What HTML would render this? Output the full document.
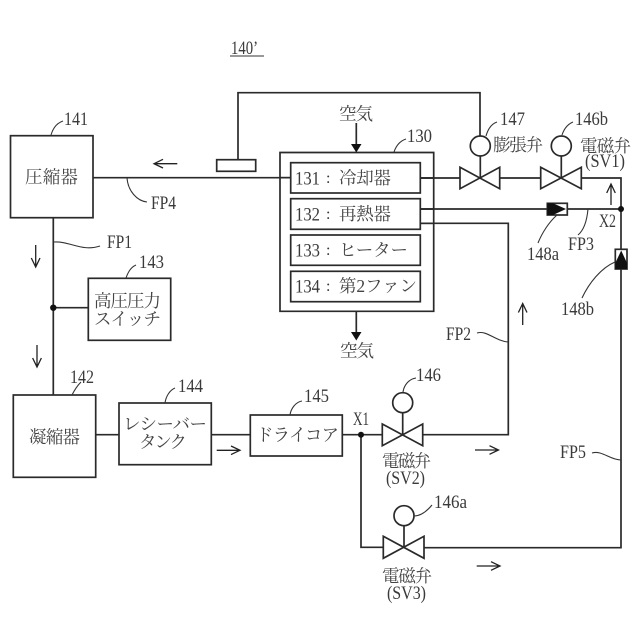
<!DOCTYPE html>
<html lang="ja">
<head>
<meta charset="utf-8">
<style>
html,body{margin:0;padding:0;background:#fff}
svg{display:block}
text{font-family:"Liberation Serif","Noto Serif CJK JP",serif;fill:#3a3a3a;font-size:18.5px}
.j{font-size:17.5px;fill:#444}
.s{fill:none;stroke:#2a2a2a;stroke-width:1.7}
.t{fill:none;stroke:#333;stroke-width:1.1}
.b{fill:#fff;stroke:#2a2a2a;stroke-width:1.7}
.a{fill:none;stroke:#222;stroke-width:1.3}
</style>
</head>
<body>
<svg width="640" height="640" viewBox="0 0 640 640" xmlns="http://www.w3.org/2000/svg">
<!-- pipes -->
<path class="s" d="M93 177.7H291M238 159.7V92.7H480V137"/>
<path class="s" d="M420 178H460M499.7 178H540.7M581.3 178H621V547.7H424"/>
<path class="s" d="M420 209H621"/>
<path class="s" d="M420 223.3H508.3V434.7H423"/>
<path class="s" d="M53.3 217.7V395M53.3 307.7H88.3"/>
<path class="s" d="M95.7 434.7H119M211.3 434.7H250.3M342.3 434.7H382.3M361 434.7V547.3H383.3"/>
<path class="s" d="M480.3 156V178M561.3 156V178M402.7 412.7V434.7M404 525.7V547.5"/>
<!-- boxes -->
<rect class="b" x="10.5" y="135.7" width="82.5" height="82"/>
<rect class="b" x="13.3" y="395" width="82.4" height="82.3"/>
<rect class="b" x="88.3" y="278.3" width="82.4" height="62"/>
<rect class="b" x="119" y="403" width="92.3" height="61.7"/>
<rect class="b" x="250.3" y="415" width="92" height="41"/>
<rect class="b" x="216.7" y="159.7" width="39" height="11.6"/>
<path class="s" d="M280 152.5H433.7V311.3H280Z"/>
<path class="s" d="M280 177.7H291M420.3 178H433.7M420.3 209H433.7M420.3 223.3H433.7"/>
<rect class="b" x="290.7" y="162.7" width="129.6" height="30.3"/>
<rect class="b" x="290.7" y="198.7" width="129.6" height="30.6"/>
<rect class="b" x="290.7" y="235" width="129.6" height="30.3"/>
<rect class="b" x="290.7" y="271.3" width="129.6" height="30.4"/>
<!-- valves -->
<path class="b" d="M460 167.3L499.7 188.7V167.3L460 188.7Z"/>
<path class="b" d="M540.7 167.3L581.3 188.7V167.3L540.7 188.7Z"/>
<path class="b" d="M382.3 424L422.7 445.7V424L382.3 445.7Z"/>
<path class="b" d="M383.3 536.3L424 558.3V536.3L383.3 558.3Z"/>
<circle class="b" cx="480.3" cy="146" r="10"/>
<circle class="b" cx="561.3" cy="146" r="10"/>
<circle class="b" cx="402.7" cy="402.7" r="10"/>
<circle class="b" cx="404" cy="515.7" r="10"/>
<!-- check valves -->
<rect class="b" x="547.3" y="203.3" width="20" height="11.7"/>
<path fill="#111" d="M547.3 203.3H553L566 209L553 215H547.3Z"/>
<rect class="b" x="615.3" y="249.3" width="11.7" height="19.7"/>
<path fill="#111" d="M621.2 250.5L627 263V269H615.3V263Z"/>
<!-- junctions -->
<circle cx="53.3" cy="307.7" r="3.2" fill="#111"/>
<circle cx="361" cy="434.7" r="3" fill="#111"/>
<circle cx="621" cy="209" r="3" fill="#111"/>
<!-- air arrows -->
<path class="s" d="M356.3 123V145M356.3 311V333"/>
<path fill="#111" d="M351 144H361.5L356.3 152.5ZM351 332H361.5L356.3 340.5Z"/>
<!-- flow arrows -->
<path class="a" d="M177.3 163.7H154M163 159.3L154 163.7L163 168"/>
<path class="a" d="M35.7 245V267M31.3 258L35.7 267L40 258"/>
<path class="a" d="M37 345V367M32.6 358L37 367L41.4 358"/>
<path class="a" d="M611 205V184M606.7 193L611 184L615.3 193"/>
<path class="a" d="M522.7 325V303.5M518.4 312.5L522.7 303.5L527 312.5"/>
<path class="a" d="M216.7 450.3H240M231 446L240 450.3L231 454.6"/>
<path class="a" d="M475 450H498.5M489.5 445.7L498.5 450L489.5 454.3"/>
<path class="a" d="M476.7 566H500M491 561.7L500 566L491 570.3"/>
<!-- leaders -->
<path class="t" d="M51 135C53 128 57 123 63 121"/>
<path class="t" d="M127 178C128 191 137 201 147 202"/>
<path class="t" d="M54 242C70 241 82 252 100 246"/>
<path class="t" d="M126 278C128 272 131 267 136 265"/>
<path class="t" d="M72 395C75 389 78 385 81 382"/>
<path class="t" d="M165 403C166 396 170 390 175 388"/>
<path class="t" d="M290 415C291 408 296 402 302 401"/>
<path class="t" d="M403 392C404 385 409 379 416 378"/>
<path class="t" d="M414 516C421 516 427 511 432 505"/>
<path class="t" d="M486 136C488 129 491 124 497 122"/>
<path class="t" d="M562 135C564 129 568 124 573 122"/>
<path class="t" d="M394 152C396 146 400 141 406 139"/>
<path class="t" d="M588 209C587 220 584 230 578 235"/>
<path class="t" d="M557 215C549 222 542 233 538 243"/>
<path class="t" d="M615 262C601 268 589 283 582 298"/>
<path class="t" d="M477 333C487 330 495 341 508 342"/>
<path class="t" d="M592 453C602 450 610 460 621 460"/>
<!-- labels -->
<text x="231" y="54" textLength="27" lengthAdjust="spacingAndGlyphs">140’</text>
<path class="t" d="M230 56H264"/>
<text x="64" y="125" textLength="24" lengthAdjust="spacingAndGlyphs">141</text>
<text x="151" y="209" textLength="25" lengthAdjust="spacingAndGlyphs">FP4</text>
<text x="107" y="248" textLength="25" lengthAdjust="spacingAndGlyphs">FP1</text>
<text x="139" y="268" textLength="25" lengthAdjust="spacingAndGlyphs">143</text>
<text x="70" y="383" textLength="24" lengthAdjust="spacingAndGlyphs">142</text>
<text x="178" y="392" textLength="25" lengthAdjust="spacingAndGlyphs">144</text>
<text x="304" y="402" textLength="25" lengthAdjust="spacingAndGlyphs">145</text>
<text x="416" y="381" textLength="25" lengthAdjust="spacingAndGlyphs">146</text>
<text x="434" y="508" textLength="33" lengthAdjust="spacingAndGlyphs">146a</text>
<text x="500" y="125" textLength="25" lengthAdjust="spacingAndGlyphs">147</text>
<text x="575" y="125" textLength="33" lengthAdjust="spacingAndGlyphs">146b</text>
<text x="407" y="142" textLength="25" lengthAdjust="spacingAndGlyphs">130</text>
<text x="568" y="250" textLength="26" lengthAdjust="spacingAndGlyphs">FP3</text>
<text x="527" y="260" textLength="32" lengthAdjust="spacingAndGlyphs">148a</text>
<text x="561" y="315" textLength="33" lengthAdjust="spacingAndGlyphs">148b</text>
<text x="446" y="340" textLength="25" lengthAdjust="spacingAndGlyphs">FP2</text>
<text x="560" y="458" textLength="26" lengthAdjust="spacingAndGlyphs">FP5</text>
<text x="353" y="425" textLength="16" lengthAdjust="spacingAndGlyphs">X1</text>
<text x="599" y="227" textLength="17" lengthAdjust="spacingAndGlyphs">X2</text>

<text class="j" x="25" y="183" textLength="53">圧縮器</text>
<text class="j" x="94" y="307" textLength="67">高圧圧力</text>
<text class="j" x="94" y="325" textLength="67">スイッチ</text>
<text class="j" x="29" y="443" textLength="51">凝縮器</text>
<text class="j" x="123" y="430" textLength="84">レシーバー</text>
<text class="j" x="139" y="448" textLength="48">タンク</text>
<text class="j" x="256" y="441" textLength="83">ドライコア</text>

<text x="295" y="184.5" textLength="25" lengthAdjust="spacingAndGlyphs">131</text><text x="326" y="183" style="font-size:16px">:</text><text class="j" x="339" y="184" textLength="52">冷却器</text>
<text x="295" y="220.5" textLength="25" lengthAdjust="spacingAndGlyphs">132</text><text x="326" y="219" style="font-size:16px">:</text><text class="j" x="339" y="220" textLength="52">再熱器</text>
<text x="295" y="256.5" textLength="25" lengthAdjust="spacingAndGlyphs">133</text><text x="326" y="255" style="font-size:16px">:</text><text class="j" x="339" y="256" textLength="69">ヒーター</text>
<text x="295" y="292.5" textLength="25" lengthAdjust="spacingAndGlyphs">134</text><text x="326" y="291" style="font-size:16px">:</text><text class="j" x="339" y="292" textLength="78">第2ファン</text>

<text class="j" x="339" y="120" textLength="34">空気</text>
<text class="j" x="340" y="357" textLength="34">空気</text>
<text class="j" x="493" y="151" textLength="50">膨張弁</text>
<text class="j" x="580" y="152" textLength="51">電磁弁</text>
<text x="585" y="167" textLength="40" lengthAdjust="spacingAndGlyphs">(SV1)</text>
<text class="j" x="382" y="467" textLength="49">電磁弁</text>
<text x="386" y="484" textLength="39" lengthAdjust="spacingAndGlyphs">(SV2)</text>
<text class="j" x="382" y="582" textLength="50">電磁弁</text>
<text x="387" y="599" textLength="39" lengthAdjust="spacingAndGlyphs">(SV3)</text>
</svg>
</body>
</html>
